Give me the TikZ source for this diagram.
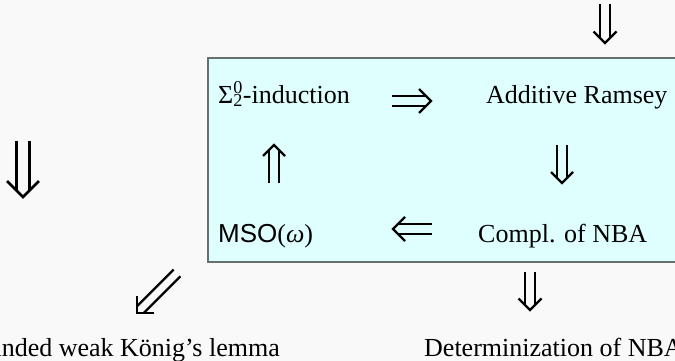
\documentclass[tikz,border=0pt]{standalone}
\usepackage{fontspec}
\setmainfont{Liberation Serif}
\setsansfont{Liberation Sans}
\usetikzlibrary{calc}
\definecolor{bgc}{HTML}{F9F9F9}
\definecolor{boxc}{HTML}{DFFFFF}
\definecolor{boxline}{HTML}{66706F}
% double arrow from #1 to #2, half gap #3, half head width #4, options #5
\newcommand\dblarrow[5]{%
  \coordinate (tmpP) at ($(#2)!#3!(#1)$);
  \coordinate (tmpQ) at ($(#2)!#4!(#1)$);
  \draw[arrline,#5] ($(#1)!#3!90:(#2)$) -- ($(tmpP)!#3!90:(#2)$);
  \draw[arrline,#5] ($(#1)!#3!-90:(#2)$) -- ($(tmpP)!#3!-90:(#2)$);
  \draw[arrline,#5] ($(tmpQ)!#4!90:(#2)$) -- (#2) -- ($(tmpQ)!#4!-90:(#2)$);
}
\begin{document}
\begin{tikzpicture}[x=1pt,y=-1pt,
  txt/.style={inner sep=0pt, font=\fontsize{26}{30}\selectfont},
  arrline/.style={line width=2.3pt, line join=miter, line cap=butt}]
\fill[bgc] (0,0) rectangle (675,361);
\useasboundingbox (0,0) rectangle (675,361);
\draw[boxline, fill=boxc, line width=1.2pt] (208,58) rectangle (700,262);
% texts
\node[txt, anchor=base west] (sig) at (218,103) {Σ\rlap{\textsuperscript{0}}\textsubscript{2}-induction};
\node[txt, anchor=base west] (add) at (486,103) {Additive Ramsey};
\node[txt, anchor=base west] (mso) at (218,242) {{\sffamily MSO}(\textit{ω})};
\node[txt, anchor=base west] (cmp) at (478,242) {Compl. of NBA};
\node[txt, anchor=base west] (det) at (424,356) {Determinization of NBA};
\node[txt, anchor=base east] (bwk) at (280,356) {Bounded weak König’s lemma};
% arrow end points
\coordinate (t1) at (605,4);   \coordinate (t2) at (605,43);
\coordinate (l1) at (23,141);  \coordinate (l2) at (23,197);
\coordinate (r1) at (392,101); \coordinate (r2) at (431,101);
\coordinate (b1) at (432,229); \coordinate (b2) at (393,229);
\coordinate (u1) at (274,183); \coordinate (u2) at (274,145);
\coordinate (d1) at (562,145); \coordinate (d2) at (562,183);
\coordinate (e1) at (530,272); \coordinate (e2) at (530,310);
\coordinate (s1) at (177,273); \coordinate (s2) at (137,313);
\dblarrow{t1}{t2}{4.7pt}{11.5pt}{}
\dblarrow{l1}{l2}{6.5pt}{16pt}{line width=2.8pt}
\dblarrow{r1}{r2}{5pt}{12pt}{}
\dblarrow{b1}{b2}{5pt}{12pt}{}
\dblarrow{u1}{u2}{4.7pt}{11pt}{}
\dblarrow{d1}{d2}{4.7pt}{11pt}{}
\dblarrow{e1}{e2}{4.7pt}{11.5pt}{}
\dblarrow{s1}{s2}{4.7pt}{12pt}{}
\end{tikzpicture}
\end{document}
